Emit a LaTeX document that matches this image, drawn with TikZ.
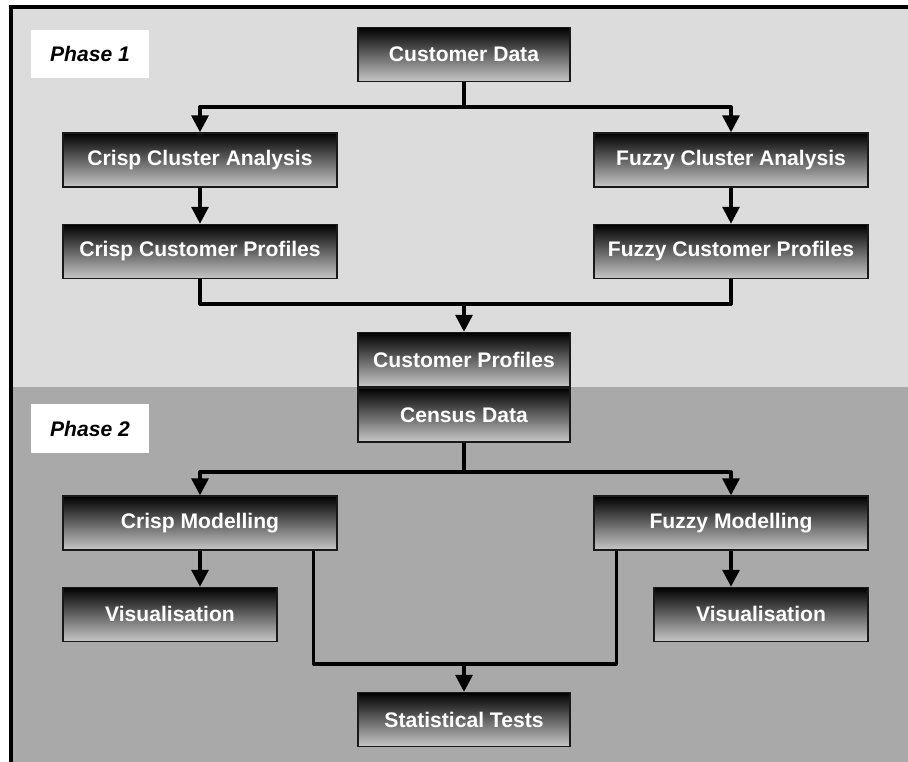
\documentclass[tikz,border=0pt]{standalone}
\usepackage{fontspec}
\setsansfont{Liberation Sans}
\usetikzlibrary{positioning, arrows.meta}
\definecolor{phaseone}{HTML}{DCDCDC}
\definecolor{phasetwo}{HTML}{A9A9A9}

\begin{document}
\begin{tikzpicture}[x=0.025cm, y=-0.025cm,
    stage/.style={draw=black!90, line width=1pt, top color=black, bottom color=black!22,
      minimum height=1.35cm, inner sep=0pt, text=white,
      font=\sffamily\bfseries\fontsize{15}{18}\selectfont},
    phase/.style={fill=white, minimum width=2.95cm, minimum height=1.2cm,
      font=\sffamily\bfseries\itshape\fontsize{15}{18}\selectfont},
    link/.style={line width=2.3pt, line join=round},
    arr/.style={link, -{Triangle[width=12pt, length=12pt]}}]
    \useasboundingbox (0,0) rectangle (908,762);
    \fill[phaseone] (12,8) rectangle (910,387);
    \fill[phasetwo] (12,387) rectangle (910,764);
    \draw[line width=2.2pt] (11,766) -- (11,7) -- (912,7);

    \node[phase] (p1) at (90,54) {Phase 1};
    \node[phase] (p2) at (90,428.5) {Phase 2};

    % phase 1
    \node[stage, minimum width=5.3cm] (cdata) at (464,54.5) {Customer Data};
    \node[stage, minimum width=6.85cm] (crispca) at (200,160) {Crisp Cluster Analysis};
    \node[stage, minimum width=6.85cm] (fuzzyca) at (731,160) {Fuzzy Cluster Analysis};
    \node[stage, minimum width=6.85cm] (crispcp) [below=0.9cm of crispca] {Crisp Customer Profiles};
    \node[stage, minimum width=6.85cm] (fuzzycp) [below=0.9cm of fuzzyca] {Fuzzy Customer Profiles};
    \node[stage, minimum width=5.3cm] (cprof) at (464,359.5) {Customer Profiles};
    \node[stage, minimum width=5.3cm] (census) [below=0cm of cprof] {Census Data};

    % phase 2
    \node[stage, minimum width=6.85cm] (crispmod) at (200,523) {Crisp Modelling};
    \node[stage, minimum width=6.85cm] (fuzzymod) at (731,523) {Fuzzy Modelling};
    \node[stage, minimum width=5.35cm] (crispvis) [below right=0.9cm and 0cm of crispmod.south west] {Visualisation};
    \node[stage, minimum width=5.35cm] (fuzzyvis) [below left=0.9cm and 0cm of fuzzymod.south east] {Visualisation};
    \node[stage, minimum width=5.3cm] (stats) at (464,719.5) {Statistical Tests};

    \coordinate (j1) at (464,107);
    \coordinate (j2) at (464,304);
    \coordinate (j3) at (464,472);
    \coordinate (j4) at (464,664);

    \draw[link] (cdata) -- (j1);
    \draw[arr] (j1) -| (crispca);
    \draw[arr] (j1) -| (fuzzyca);
    \draw[arr] (crispca) -- (crispcp);
    \draw[arr] (fuzzyca) -- (fuzzycp);
    \draw[link] (crispcp) |- (j2);
    \draw[link] (fuzzycp) |- (j2);
    \draw[arr] (j2) -- (cprof);

    \draw[link] (census) -- (j3);
    \draw[arr] (j3) -| (crispmod);
    \draw[arr] (j3) -| (fuzzymod);
    \draw[arr] (crispmod) -- (crispmod |- crispvis.north);
    \draw[arr] (fuzzymod) -- (fuzzymod |- fuzzyvis.north);
    \draw[link] ([xshift=-0.6cm]crispmod.south east) |- (j4);
    \draw[link] ([xshift=0.58cm]fuzzymod.south west) |- (j4);
    \draw[arr] (j4) -- (stats);
\end{tikzpicture}
\end{document}
